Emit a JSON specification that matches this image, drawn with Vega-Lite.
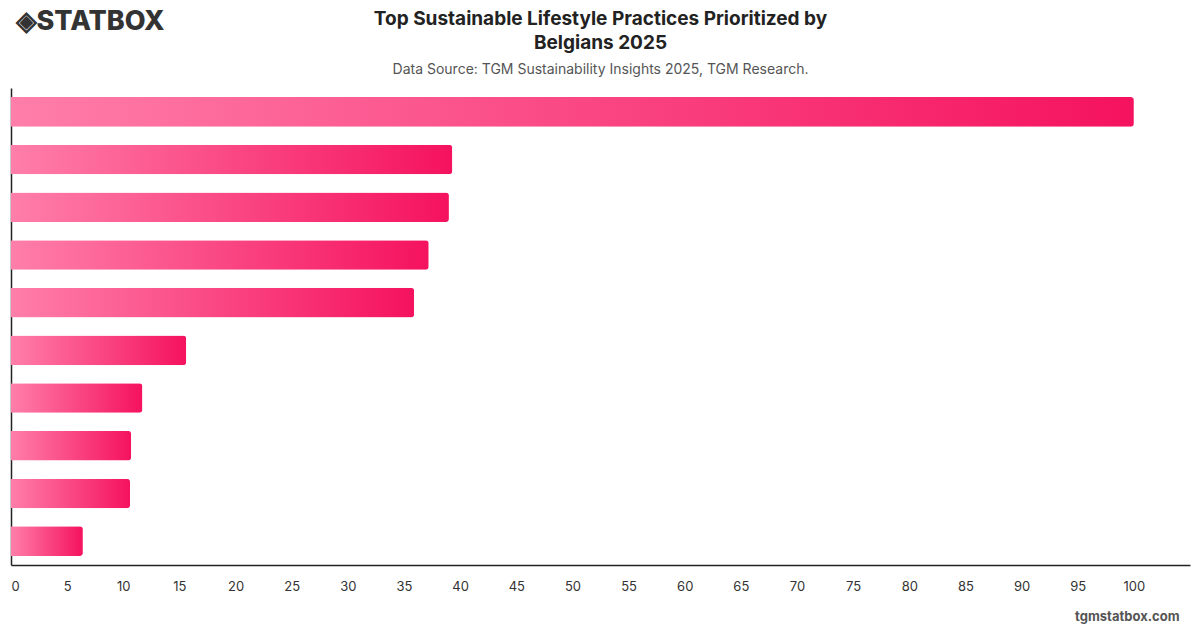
{
  "$schema": "https://vega.github.io/schema/vega-lite/v6.json",
  "width": 1179,
  "height": 477,
  "autosize": {"type": "none"},
  "padding": {"left": 11, "top": 88, "right": 10, "bottom": 63},
  "background": "#ffffff",
  "config": {
    "font": "Inter",
    "view": {"stroke": null}
  },
  "title": {
    "text": ["Top Sustainable Lifestyle Practices Prioritized by", "Belgians 2025"],
    "subtitle": "Data Source: TGM Sustainability Insights 2025, TGM Research.",
    "anchor": "middle",
    "frame": "group",
    "font": "Inter",
    "fontSize": 19,
    "fontWeight": "bold",
    "color": "#222222",
    "lineHeight": 24,
    "subtitleFont": "Inter",
    "subtitleFontSize": 14,
    "subtitleColor": "#555555",
    "subtitlePadding": 10,
    "offset": -70
  },
  "data": {
    "values": [
      {"practice": "Recycling household waste", "share": 100},
      {"practice": "Reducing single-use plastics", "share": 39.3},
      {"practice": "Saving energy at home", "share": 39.0},
      {"practice": "Reducing food waste", "share": 37.2},
      {"practice": "Buying local products", "share": 35.9},
      {"practice": "Using public transport", "share": 15.6},
      {"practice": "Buying second-hand items", "share": 11.7},
      {"practice": "Cycling or walking", "share": 10.7},
      {"practice": "Eating less meat", "share": 10.6},
      {"practice": "Choosing eco-labelled products", "share": 6.4}
    ]
  },
  "mark": {
    "type": "bar",
    "cornerRadiusEnd": 3,
    "color": {
      "gradient": "linear",
      "x1": 0, "y1": 0, "x2": 1, "y2": 0,
      "stops": [
        {"offset": 0, "color": "#ff7eaa"},
        {"offset": 1, "color": "#f5125f"}
      ]
    }
  },
  "encoding": {
    "y": {
      "field": "practice",
      "type": "nominal",
      "sort": "-x",
      "scale": {"paddingInner": 0.38, "paddingOuter": 0.19},
      "axis": {
        "title": "◈STATBOX",
        "titleAngle": 0,
        "titleX": 4,
        "titleY": -67,
        "titleAlign": "left",
        "titleBaseline": "middle",
        "titleFont": "Inter",
        "titleFontSize": 27,
        "titleFontWeight": 800,
        "titleColor": "#333333",
        "labels": false,
        "ticks": false,
        "domain": true,
        "domainColor": "#222222",
        "domainWidth": 1.5
      }
    },
    "x": {
      "field": "share",
      "type": "quantitative",
      "scale": {"domain": [0, 105], "nice": false},
      "axis": {
        "values": [0, 5, 10, 15, 20, 25, 30, 35, 40, 45, 50, 55, 60, 65, 70, 75, 80, 85, 90, 95, 100],
        "grid": false,
        "ticks": false,
        "labelPadding": 15,
        "labelFlush": true,
        "labelFont": "Inter",
        "labelFontSize": 13,
        "labelColor": "#333333",
        "domainColor": "#222222",
        "domainWidth": 1.5,
        "title": "tgmstatbox.com",
        "titleAnchor": "end",
        "titleAlign": "right",
        "titleX": 1168,
        "titleY": 51,
        "titleBaseline": "middle",
        "titleFont": "Inter",
        "titleFontSize": 13,
        "titleFontWeight": "bold",
        "titleColor": "#555555"
      }
    }
  }
}
